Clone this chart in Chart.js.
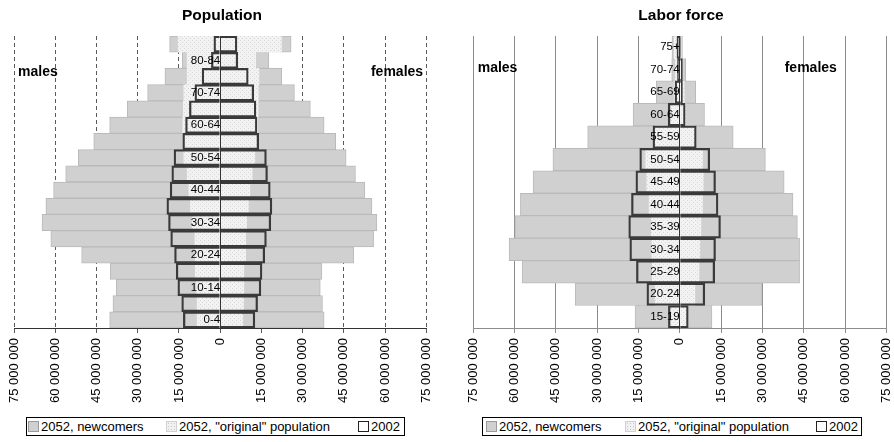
<!DOCTYPE html>
<html>
<head>
<meta charset="utf-8">
<title>Population and labor force pyramids</title>
<script src="https://cdn.jsdelivr.net/npm/chart.js"></script>
<style>
    body { margin: 0; width: 894px; height: 442px; overflow: hidden; background: #fff; font-family: 'Liberation Sans', Arial, sans-serif; }
    .box { position: absolute; top: 0; height: 410px; }
    #popBox { left: 0; width: 447px; }
    #labBox { left: 447px; width: 460px; }
    .legend { position: absolute; top: 417px; height: 17px; border: 1px solid #000; background: #fff; font-size: 13px; color: #000; }
    .legend .item { position: absolute; top: 0; line-height: 17px; white-space: nowrap; }
    .legend .sw { display: inline-block; width: 9px; height: 9px; border: 1px solid #9a9a9a; vertical-align: -1px; margin-right: 2px; }
    .sw.newc { background: #d0d0d0; }
    .sw.orig { background-color: #f1f1f1; background-image: radial-gradient(#c8c8c8 0.7px, transparent 0.9px); background-size: 3px 3px; border-color: #d0d0d0; }
    .sw.old { background: #fff; border-color: #222; }
</style>
</head>
<body>
<div class="box" id="popBox"><canvas id="popChart"></canvas></div>
<div class="box" id="labBox"><canvas id="labChart"></canvas></div>

<div class="legend" style="left:26px; width:377px;">
    <div class="item" style="left:1px;"><span class="sw newc"></span>2052, newcomers</div>
    <div class="item" style="left:139px;"><span class="sw orig"></span>2052, "original" population</div>
    <div class="item" style="left:331px;"><span class="sw old"></span>2002</div>
</div>
<div class="legend" style="left:482px; width:378px;">
    <div class="item" style="left:3px;"><span class="sw newc"></span>2052, newcomers</div>
    <div class="item" style="left:142px;"><span class="sw orig"></span>2052, "original" population</div>
    <div class="item" style="left:333px;"><span class="sw old"></span>2002</div>
</div>

<script>
    // values in millions, youngest age group first
    const popAges = ['0-4', '5-9', '10-14', '15-19', '20-24', '25-29', '30-34', '35-39', '40-44',
                     '45-49', '50-54', '55-59', '60-64', '65-69', '70-74', '75-79', '80-84', '85+'];
    const popNewMale    = [31.8, 30.6, 29.2, 31.0, 41.4, 52.4, 54.6, 52.6, 49.2, 44.2, 38.4, 32.8, 26.6, 20.4, 13.2, 8.1, 1.8, 3.1];
    const popOrigMale   = [8.4, 8.4, 8.6, 9.0, 9.0, 9.2, 10.2, 10.8, 11.4, 12.0, 13.2, 13.2, 13.6, 13.4, 13.2, 12.0, 12.0, 15.3];
    const pop2002Male   = [13.4, 14.0, 15.4, 16.0, 16.6, 18.0, 18.8, 19.4, 18.2, 17.6, 16.8, 13.6, 12.6, 11.2, 9.2, 6.6, 3.2, 2.3];
    const popNewFemale  = [29.6, 28.8, 27.8, 28.4, 39.4, 46.6, 47.4, 45.0, 41.8, 37.6, 33.2, 28.2, 24.2, 19.0, 13.2, 8.3, 4.8, 3.6];
    const popOrigFemale = [8.2, 8.4, 8.6, 8.6, 9.2, 9.2, 9.6, 10.2, 10.8, 11.6, 12.6, 13.8, 13.6, 13.8, 13.8, 14.1, 12.9, 22.2];
    const pop2002Female = [12.6, 13.6, 14.8, 15.2, 16.2, 16.8, 18.4, 18.8, 18.2, 17.2, 16.8, 14.0, 13.4, 13.0, 12.2, 10.2, 6.4, 6.1];

    const labAges = ['15-19', '20-24', '25-29', '30-34', '35-39', '40-44', '45-49',
                     '50-54', '55-59', '60-64', '65-69', '70-74', '75+'];
    const labNewMale    = [12.7, 29.0, 47.3, 51.8, 49.5, 46.7, 41.3, 33.7, 24.4, 13.9, 6.5, 1.4, 0.8];
    const labOrigMale   = [3.5, 8.9, 9.9, 10.1, 10.3, 11.1, 11.9, 12.3, 9.0, 3.0, 2.0, 1.5, 2.0];
    const lab2002Male   = [4.1, 11.9, 15.7, 18.1, 18.5, 17.5, 15.9, 14.5, 9.7, 4.2, 1.7, 0.8, 1.0];
    const labNewFemale  = [9.2, 24.4, 36.5, 36.2, 35.0, 32.9, 29.4, 22.9, 13.8, 6.8, 4.2, 1.2, 0.5];
    const labOrigFemale = [2.5, 5.5, 7.0, 7.3, 7.7, 8.2, 8.5, 8.2, 5.6, 2.2, 1.6, 1.0, 0.5];
    const lab2002Female = [3.1, 9.1, 12.7, 13.0, 14.8, 13.9, 13.0, 10.9, 6.0, 2.0, 1.0, 1.0, 0.3];

    const axisMax = 75;
    const axisStep = 15;

    Chart.defaults.font.family = "'Liberation Sans', Arial, sans-serif";
    Chart.defaults.color = '#000';

    function dotPattern() {
        const c = document.createElement('canvas');
        c.width = 4; c.height = 4;
        const g = c.getContext('2d');
        g.fillStyle = '#f2f2f2';
        g.fillRect(0, 0, 4, 4);
        g.fillStyle = '#d8d8d8';
        g.fillRect(0, 0, 1, 1);
        g.fillRect(2, 2, 1, 1);
        return g.createPattern(c, 'repeat');
    }
    const dots = dotPattern();

    const fmtTick = v => v === 0 ? '0' : Math.abs(v) + ' 000 000';
    const neg = arr => arr.map(v => -v);

    // "males" / "females" captions inside the plot
    const sideLabels = {
        id: 'sideLabels',
        afterDraw(chart, args, opts) {
            const {ctx, chartArea, scales: {x}} = chart;
            ctx.save();
            ctx.font = "bold 14px 'Liberation Sans', Arial, sans-serif";
            ctx.fillStyle = '#000';
            ctx.textBaseline = 'middle';
            ctx.textAlign = 'left';
            ctx.fillText('males', x.getPixelForValue(opts.malesAt), chartArea.top + opts.offsetY);
            ctx.textAlign = opts.femalesAlign;
            ctx.fillText('females', x.getPixelForValue(opts.femalesAt), chartArea.top + opts.offsetY);
            ctx.restore();
        }
    };

    function makePyramid(id, c) {
        const bar = { grouped: false, categoryPercentage: 1, barPercentage: 1 };
        const box = { backgroundColor: 'rgba(0,0,0,0)', borderColor: '#3a3a3a', borderWidth: 1.6, borderSkipped: 'start' };
        const datasets = [
            { ...bar, ...box, label: '2002', data: neg(c.oldM), stack: 'old' },
            { ...bar, ...box, label: '2002', data: c.oldF, stack: 'old' },
            { ...bar, label: '2052, "original" population', data: neg(c.origM), stack: 'new', backgroundColor: dots, borderWidth: 0 },
            { ...bar, label: '2052, "original" population', data: c.origF, stack: 'new', backgroundColor: dots, borderWidth: 0 },
            { ...bar, label: '2052, newcomers', data: neg(c.newM), stack: 'new', backgroundColor: '#d0d0d0', borderColor: '#bababa', borderWidth: 1 },
            { ...bar, label: '2052, newcomers', data: c.newF, stack: 'new', backgroundColor: '#d0d0d0', borderColor: '#bababa', borderWidth: 1 }
        ];

        return new Chart(document.getElementById(id), {
            type: 'bar',
            data: { labels: c.ages, datasets },
            plugins: [sideLabels],
            options: {
                indexAxis: 'y',
                responsive: true,
                maintainAspectRatio: false,
                animation: false,
                layout: { padding: c.padding },
                scales: {
                    x: {
                        type: 'linear',
                        min: -axisMax,
                        max: axisMax,
                        afterFit: s => { s.height = 82; },
                        grid: { color: c.gridColor, tickLength: 5 },
                        border: { display: true, color: c.axisColor, dash: c.gridDash },
                        ticks: {
                            stepSize: axisStep,
                            autoSkip: false,
                            minRotation: 90,
                            maxRotation: 90,
                            padding: 5,
                            font: { size: 13 },
                            color: '#000',
                            callback: fmtTick
                        }
                    },
                    y: {
                        type: 'category',
                        reverse: true,
                        position: { x: 0 },
                        grid: { display: false, drawTicks: false },
                        border: { display: true, color: '#333', width: 1, z: 1 },
                        ticks: {
                            z: 1,
                            padding: 8,
                            autoSkip: false,
                            font: { size: 11.5 },
                            color: '#000',
                            callback: (v, i) => (i % c.labelEvery === 0 ? c.ages[v] : '')
                        }
                    }
                },
                plugins: {
                    legend: { display: false },
                    tooltip: { enabled: false },
                    title: {
                        display: true,
                        text: c.title,
                        color: '#000',
                        font: { size: 15.5, weight: 'bold' },
                        padding: { top: 6, bottom: 11.4 }
                    },
                    sideLabels: c.side
                }
            }
        });
    }

    makePyramid('popChart', {
        title: 'Population',
        ages: popAges,
        newM: popNewMale, origM: popOrigMale, oldM: pop2002Male,
        newF: popNewFemale, origF: popOrigFemale, oldF: pop2002Female,
        labelEvery: 2,
        gridColor: '#5a5a5a',
        gridDash: [4, 3],
        axisColor: '#333',
        padding: { left: 14, right: 17, top: 0, bottom: 0 },
        side: { malesAt: -73.5, femalesAt: 73.8, femalesAlign: 'right', offsetY: 36 }
    });

    makePyramid('labChart', {
        title: 'Labor force',
        ages: labAges,
        newM: labNewMale, origM: labOrigMale, oldM: lab2002Male,
        newF: labNewFemale, origF: labOrigFemale, oldF: lab2002Female,
        labelEvery: 1,
        gridColor: '#8c8c8c',
        gridDash: [],
        axisColor: '#8c8c8c',
        padding: { left: 26, right: 18, top: 0, bottom: 0 },
        side: { malesAt: -73.3, femalesAt: 38.1, femalesAlign: 'left', offsetY: 32 }
    });
</script>
</body>
</html>
